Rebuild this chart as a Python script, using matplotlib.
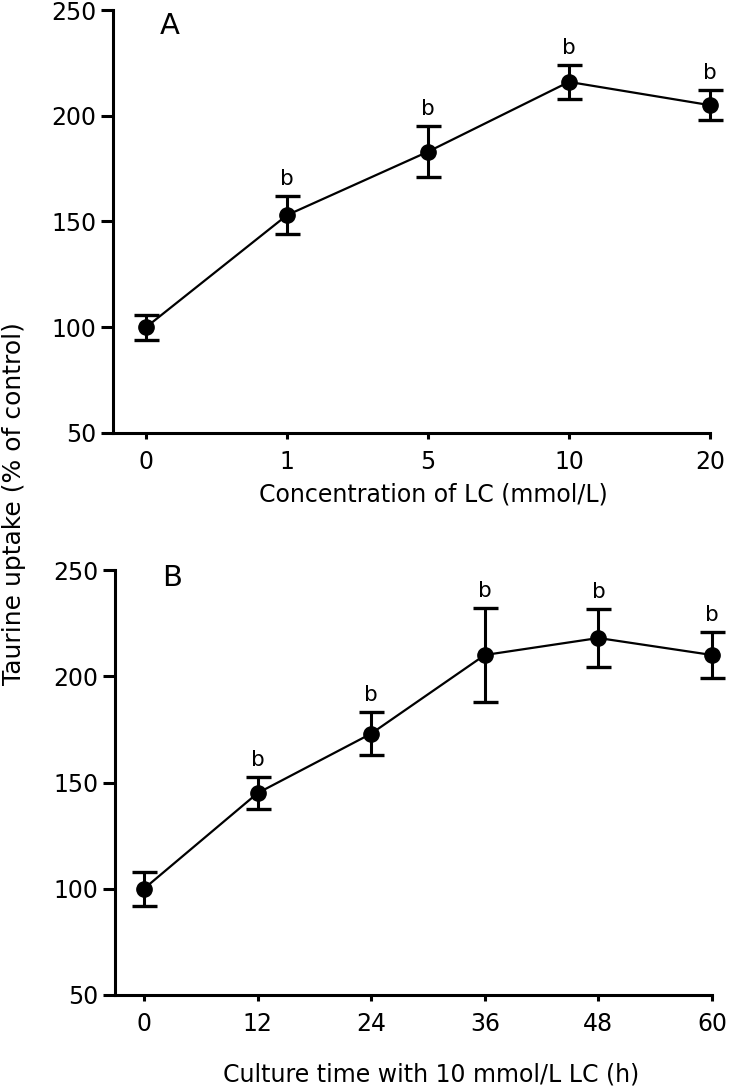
import numpy as np
import matplotlib
matplotlib.use("Agg")
import matplotlib.pyplot as plt

# Panel A: concentration of LC
conc_labels = ["0", "1", "5", "10", "20"]
conc_mean = [100, 153, 183, 216, 205]
conc_err = [6, 9, 12, 8, 7]
conc_sig = ["", "b", "b", "b", "b"]

# Panel B: culture time with 10 mmol/L LC
time_h = [0, 12, 24, 36, 48, 60]
time_mean = [100, 145, 173, 210, 218, 210]
time_err = [8, 7.5, 10, 22, 13.5, 11]
time_sig = ["", "b", "b", "b", "b", "b"]

plt.rcParams['font.family'] = ['DejaVu Sans']
fs = 17

fig = plt.figure(figsize=(7.29, 10.87), dpi=100)
axA = fig.add_axes([113/729, 1 - 433/1087, 597/729, 423/1087])
axB = fig.add_axes([115/729, 1 - 995/1087, 597/729, 425/1087])


def style_axis(ax):
    for s in ['top', 'right']:
        ax.spines[s].set_visible(False)
    for s in ['left', 'bottom']:
        ax.spines[s].set_linewidth(2.2)
    ax.set_ylim(50, 250)
    ax.set_yticks([50, 100, 150, 200, 250])
    ax.tick_params(axis='y', length=9, width=2.2, labelsize=fs, pad=3, colors='black')
    ax.tick_params(axis='x', length=4, width=2.2, labelsize=fs, pad=8)


def draw(ax, x, mean, err, sig):
    ax.errorbar(x, mean, yerr=err, fmt='o-', color='black', ms=11, lw=1.6,
                elinewidth=2.2, capsize=9, capthick=2.4, clip_on=False, zorder=3)
    for xi, m, e, s in zip(x, mean, err, sig):
        if s:
            ax.annotate(s, (xi, m + e), xytext=(0, 5), textcoords='offset points',
                        ha='center', va='bottom', fontsize=15.5)


xa = np.arange(len(conc_labels))
draw(axA, xa, conc_mean, conc_err, conc_sig)
style_axis(axA)
axA.set_xlim(-0.234, 4)
axA.set_xticks(xa)
axA.set_xticklabels(conc_labels)
axA.set_xlabel("Concentration of LC (mmol/L)", fontsize=fs)
axA.xaxis.set_label_coords(0.536, -0.118)
axA.text(0.1, 249, "A", fontsize=21, ha='left', va='top')

draw(axB, time_h, time_mean, time_err, time_sig)
style_axis(axB)
axB.set_xlim(-3.06, 60)
axB.set_xticks(time_h)
axB.set_xlabel("Culture time with 10 mmol/L LC (h)", fontsize=fs)
axB.xaxis.set_label_coords(0.529, -0.158)
axB.text(1.9, 253, "B", fontsize=21, ha='left', va='top')

fig.text(0.019, 0.537, "Taurine uptake (% of control)", rotation=90,
         ha='center', va='center', fontsize=18)

fig.savefig("out.png", dpi=100)
